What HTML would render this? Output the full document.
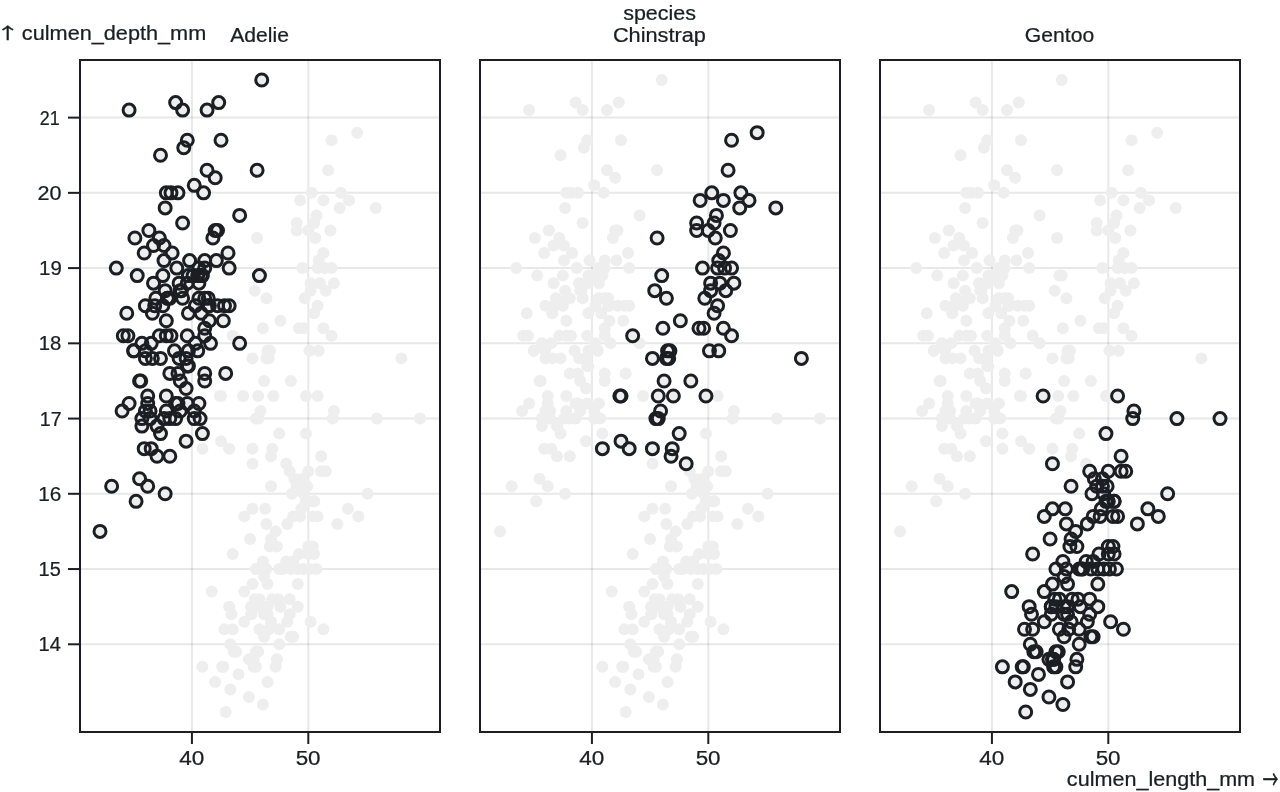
<!DOCTYPE html>
<html lang="en">
<head>
<meta charset="utf-8">
<title>Penguins culmen depth vs length by species</title>
<style>
html,body{margin:0;padding:0;background:#fff;}
body{width:1280px;height:792px;overflow:hidden;}
svg{display:block;font-family:"Liberation Sans",sans-serif;font-size:10px;fill:#1b1e23;}
text{stroke:#1b1e23;stroke-width:0.12px;}
.ar{font-family:"Noto Sans CJK SC","DejaVu Sans",sans-serif;stroke-width:0.2px;}
</style>
</head>
<body>
<svg width="1280" height="792" viewBox="0 0 640 396">
<rect width="640" height="396" fill="#fff"/>
<g stroke="#1b1e23" stroke-opacity="0.1" fill="none">
<line x1="40" x2="220" y1="322.14" y2="322.14"/><line x1="40" x2="220" y1="284.52" y2="284.52"/><line x1="40" x2="220" y1="246.9" y2="246.9"/><line x1="40" x2="220" y1="209.29" y2="209.29"/><line x1="40" x2="220" y1="171.67" y2="171.67"/><line x1="40" x2="220" y1="134.05" y2="134.05"/><line x1="40" x2="220" y1="96.43" y2="96.43"/><line x1="40" x2="220" y1="58.81" y2="58.81"/><line x1="95.96" x2="95.96" y1="30" y2="366"/><line x1="154.15" x2="154.15" y1="30" y2="366"/><line x1="240" x2="420" y1="322.14" y2="322.14"/><line x1="240" x2="420" y1="284.52" y2="284.52"/><line x1="240" x2="420" y1="246.9" y2="246.9"/><line x1="240" x2="420" y1="209.29" y2="209.29"/><line x1="240" x2="420" y1="171.67" y2="171.67"/><line x1="240" x2="420" y1="134.05" y2="134.05"/><line x1="240" x2="420" y1="96.43" y2="96.43"/><line x1="240" x2="420" y1="58.81" y2="58.81"/><line x1="295.96" x2="295.96" y1="30" y2="366"/><line x1="354.15" x2="354.15" y1="30" y2="366"/><line x1="440" x2="620" y1="322.14" y2="322.14"/><line x1="440" x2="620" y1="284.52" y2="284.52"/><line x1="440" x2="620" y1="246.9" y2="246.9"/><line x1="440" x2="620" y1="209.29" y2="209.29"/><line x1="440" x2="620" y1="171.67" y2="171.67"/><line x1="440" x2="620" y1="134.05" y2="134.05"/><line x1="440" x2="620" y1="96.43" y2="96.43"/><line x1="440" x2="620" y1="58.81" y2="58.81"/><line x1="495.96" x2="495.96" y1="30" y2="366"/><line x1="554.15" x2="554.15" y1="30" y2="366"/>
</g>
<g stroke="#1b1e23" fill="none">
<line x1="34" x2="40" y1="322.14" y2="322.14"/><line x1="34" x2="40" y1="284.52" y2="284.52"/><line x1="34" x2="40" y1="246.9" y2="246.9"/><line x1="34" x2="40" y1="209.29" y2="209.29"/><line x1="34" x2="40" y1="171.67" y2="171.67"/><line x1="34" x2="40" y1="134.05" y2="134.05"/><line x1="34" x2="40" y1="96.43" y2="96.43"/><line x1="34" x2="40" y1="58.81" y2="58.81"/><line x1="95.96" x2="95.96" y1="366" y2="372"/><line x1="154.15" x2="154.15" y1="366" y2="372"/><line x1="295.96" x2="295.96" y1="366" y2="372"/><line x1="354.15" x2="354.15" y1="366" y2="372"/><line x1="495.96" x2="495.96" y1="366" y2="372"/><line x1="554.15" x2="554.15" y1="366" y2="372"/>
</g>
<g>
<text x="30.42" y="325.64" text-anchor="end" textLength="11.15" lengthAdjust="spacingAndGlyphs">14</text><text x="30.38" y="288.02" text-anchor="end" textLength="11.1" lengthAdjust="spacingAndGlyphs">15</text><text x="30.72" y="250.4" text-anchor="end" textLength="11.58" lengthAdjust="spacingAndGlyphs">16</text><text x="30.79" y="212.79" text-anchor="end" textLength="10.87" lengthAdjust="spacingAndGlyphs">17</text><text x="30.68" y="175.17" text-anchor="end" textLength="11.28" lengthAdjust="spacingAndGlyphs">18</text><text x="30.88" y="137.55" text-anchor="end" textLength="11.36" lengthAdjust="spacingAndGlyphs">19</text><text x="30.74" y="99.93" text-anchor="end" textLength="12.01" lengthAdjust="spacingAndGlyphs">20</text><text x="29.86" y="62.31" text-anchor="end" textLength="9.96" lengthAdjust="spacingAndGlyphs">21</text>
</g>
<g>
<text x="95.93" y="382.25" text-anchor="middle" textLength="12.53" lengthAdjust="spacingAndGlyphs">40</text><text x="154.06" y="382.25" text-anchor="middle" textLength="12.45" lengthAdjust="spacingAndGlyphs">50</text><text x="295.93" y="382.25" text-anchor="middle" textLength="12.53" lengthAdjust="spacingAndGlyphs">40</text><text x="354.06" y="382.25" text-anchor="middle" textLength="12.45" lengthAdjust="spacingAndGlyphs">50</text><text x="495.93" y="382.25" text-anchor="middle" textLength="12.53" lengthAdjust="spacingAndGlyphs">40</text><text x="554.06" y="382.25" text-anchor="middle" textLength="12.45" lengthAdjust="spacingAndGlyphs">50</text>
</g>
<g>
<text x="129.82" y="20.9" text-anchor="middle" textLength="29.33" lengthAdjust="spacingAndGlyphs">Adelie</text><text x="329.71" y="20.9" text-anchor="middle" textLength="46.52" lengthAdjust="spacingAndGlyphs">Chinstrap</text><text x="529.75" y="20.9" text-anchor="middle" textLength="34.65" lengthAdjust="spacingAndGlyphs">Gentoo</text><text x="329.77" y="9.75" text-anchor="middle" textLength="36.35" lengthAdjust="spacingAndGlyphs">species</text><text class="ar" transform="translate(-2.1,19.4) scale(1.200,0.800)">↑</text><text x="10.94" y="19.75" textLength="92.18" lengthAdjust="spacingAndGlyphs">culmen_depth_mm</text><text x="627.54" y="393" text-anchor="end" textLength="94.1" lengthAdjust="spacingAndGlyphs">culmen_length_mm</text><text class="ar" transform="translate(631.4,394.37) scale(0.780,1.250)">→</text>
</g>
<g transform="translate(40,0)">
<rect x="0" y="30" width="180" height="336" fill="none" stroke="#1b1e23"/>
<g fill="#eee" stroke="none">
<circle cx="50.73" cy="145.33" r="3"/><circle cx="53.05" cy="194.24" r="3"/><circle cx="57.71" cy="171.67" r="3"/><circle cx="36.76" cy="122.76" r="3"/><circle cx="51.89" cy="73.86" r="3"/><circle cx="49.56" cy="179.19" r="3"/><circle cx="51.31" cy="111.48" r="3"/><circle cx="21.64" cy="167.9" r="3"/><circle cx="67.6" cy="88.9" r="3"/><circle cx="43.16" cy="205.52" r="3"/><circle cx="43.16" cy="198" r="3"/><circle cx="62.36" cy="186.71" r="3"/><circle cx="47.82" cy="51.29" r="3"/><circle cx="24.55" cy="55.05" r="3"/><circle cx="36.18" cy="179.19" r="3"/><circle cx="48.4" cy="134.05" r="3"/><circle cx="70.51" cy="70.1" r="3"/><circle cx="23.38" cy="156.62" r="3"/><circle cx="90.87" cy="40" r="3"/><circle cx="43.16" cy="160.38" r="3"/><circle cx="42.58" cy="145.33" r="3"/><circle cx="32.11" cy="126.52" r="3"/><circle cx="45.49" cy="167.9" r="3"/><circle cx="48.98" cy="201.76" r="3"/><circle cx="28.62" cy="137.81" r="3"/><circle cx="59.45" cy="149.1" r="3"/><circle cx="58.87" cy="175.43" r="3"/><circle cx="43.75" cy="149.1" r="3"/><circle cx="58.87" cy="137.81" r="3"/><circle cx="53.05" cy="220.57" r="3"/><circle cx="39.67" cy="167.9" r="3"/><circle cx="53.05" cy="179.19" r="3"/><circle cx="61.2" cy="137.81" r="3"/><circle cx="35.02" cy="209.29" r="3"/><circle cx="51.31" cy="55.05" r="3"/><circle cx="48.98" cy="96.43" r="3"/><circle cx="68.76" cy="152.86" r="3"/><circle cx="42" cy="122.76" r="3"/><circle cx="54.8" cy="130.29" r="3"/><circle cx="35.6" cy="171.67" r="3"/><circle cx="60.62" cy="156.62" r="3"/><circle cx="32.69" cy="152.86" r="3"/><circle cx="79.82" cy="107.71" r="3"/><circle cx="38.51" cy="213.05" r="3"/><circle cx="53.64" cy="141.57" r="3"/><circle cx="62.36" cy="134.05" r="3"/><circle cx="41.42" cy="137.81" r="3"/><circle cx="32.69" cy="175.43" r="3"/><circle cx="69.35" cy="51.29" r="3"/><circle cx="53.64" cy="182.95" r="3"/><circle cx="56.55" cy="137.81" r="3"/><circle cx="26.87" cy="175.43" r="3"/><circle cx="67.6" cy="115.24" r="3"/><circle cx="23.96" cy="167.9" r="3"/><circle cx="64.11" cy="149.1" r="3"/><circle cx="50.15" cy="190.48" r="3"/><circle cx="59.45" cy="141.57" r="3"/><circle cx="35.6" cy="224.33" r="3"/><circle cx="42" cy="130.29" r="3"/><circle cx="30.95" cy="213.05" r="3"/><circle cx="63.53" cy="55.05" r="3"/><circle cx="42" cy="209.29" r="3"/><circle cx="62.36" cy="164.14" r="3"/><circle cx="35.02" cy="205.52" r="3"/><circle cx="65.27" cy="171.67" r="3"/><circle cx="29.78" cy="239.38" r="3"/><circle cx="62.36" cy="130.29" r="3"/><circle cx="32.11" cy="224.33" r="3"/><circle cx="66.44" cy="119" r="3"/><circle cx="18.15" cy="134.05" r="3"/><circle cx="54.22" cy="156.62" r="3"/><circle cx="53.64" cy="201.76" r="3"/><circle cx="89.71" cy="137.81" r="3"/><circle cx="29.78" cy="190.48" r="3"/><circle cx="72.25" cy="152.86" r="3"/><circle cx="61.2" cy="216.81" r="3"/><circle cx="39.67" cy="119" r="3"/><circle cx="33.85" cy="243.14" r="3"/><circle cx="68.18" cy="130.29" r="3"/><circle cx="24.55" cy="201.76" r="3"/><circle cx="72.84" cy="186.71" r="3"/><circle cx="36.76" cy="141.57" r="3"/><circle cx="27.45" cy="119" r="3"/><circle cx="40.25" cy="179.19" r="3"/><circle cx="63.53" cy="85.14" r="3"/><circle cx="34.44" cy="115.24" r="3"/><circle cx="37.93" cy="149.1" r="3"/><circle cx="46.07" cy="126.52" r="3"/><circle cx="49.56" cy="141.57" r="3"/><circle cx="30.95" cy="171.67" r="3"/><circle cx="62.36" cy="167.9" r="3"/><circle cx="21.05" cy="205.52" r="3"/><circle cx="53.64" cy="167.9" r="3"/><circle cx="33.85" cy="198" r="3"/><circle cx="60.62" cy="137.81" r="3"/><circle cx="44.91" cy="149.1" r="3"/><circle cx="57.71" cy="152.86" r="3"/><circle cx="15.82" cy="243.14" r="3"/><circle cx="74.58" cy="152.86" r="3"/><circle cx="26.87" cy="175.43" r="3"/><circle cx="61.78" cy="96.43" r="3"/><circle cx="42.58" cy="246.9" r="3"/><circle cx="43.16" cy="96.43" r="3"/><circle cx="43.75" cy="149.1" r="3"/><circle cx="54.22" cy="137.81" r="3"/><circle cx="47.82" cy="201.76" r="3"/><circle cx="45.49" cy="96.43" r="3"/><circle cx="44.91" cy="209.29" r="3"/><circle cx="74.58" cy="134.05" r="3"/><circle cx="44.91" cy="228.1" r="3"/><circle cx="88.55" cy="85.14" r="3"/><circle cx="54.22" cy="182.95" r="3"/><circle cx="68.76" cy="115.24" r="3"/><circle cx="53.64" cy="70.1" r="3"/><circle cx="71.67" cy="160.38" r="3"/><circle cx="47.82" cy="209.29" r="3"/><circle cx="40.25" cy="77.62" r="3"/><circle cx="30.95" cy="209.29" r="3"/><circle cx="62.36" cy="149.1" r="3"/><circle cx="33.85" cy="201.76" r="3"/><circle cx="42.58" cy="103.95" r="3"/><circle cx="57.13" cy="209.29" r="3"/><circle cx="64.11" cy="152.86" r="3"/><circle cx="28.04" cy="250.67" r="3"/><circle cx="59.45" cy="134.05" r="3"/><circle cx="48.98" cy="186.71" r="3"/><circle cx="64.69" cy="160.38" r="3"/><circle cx="50.15" cy="205.52" r="3"/><circle cx="79.82" cy="171.67" r="3"/><circle cx="47.24" cy="175.43" r="3"/><circle cx="74" cy="126.52" r="3"/><circle cx="37.35" cy="152.86" r="3"/><circle cx="41.42" cy="152.86" r="3"/><circle cx="44.91" cy="186.71" r="3"/><circle cx="62.36" cy="190.48" r="3"/><circle cx="30.36" cy="190.48" r="3"/><circle cx="57.13" cy="92.67" r="3"/><circle cx="38.51" cy="228.1" r="3"/><circle cx="54.22" cy="175.43" r="3"/><circle cx="57.13" cy="205.52" r="3"/><circle cx="59.45" cy="201.76" r="3"/><circle cx="10" cy="265.71" r="3"/><circle cx="60.04" cy="209.29" r="3"/><circle cx="40.25" cy="216.81" r="3"/><circle cx="50.15" cy="145.33" r="3"/><circle cx="51.31" cy="149.1" r="3"/><circle cx="36.18" cy="156.62" r="3"/><circle cx="32.69" cy="179.19" r="3"/><circle cx="43.16" cy="167.9" r="3"/><circle cx="32.69" cy="205.52" r="3"/><circle cx="64.69" cy="152.86" r="3"/><circle cx="93.78" cy="175.43" r="3"/><circle cx="114.15" cy="115.24" r="3"/><circle cx="121.71" cy="126.52" r="3"/><circle cx="87.38" cy="145.33" r="3"/><circle cx="129.85" cy="103.95" r="3"/><circle cx="86.22" cy="179.19" r="3"/><circle cx="91.45" cy="164.14" r="3"/><circle cx="121.71" cy="164.14" r="3"/><circle cx="90.87" cy="137.81" r="3"/><circle cx="121.71" cy="100.19" r="3"/><circle cx="94.36" cy="179.19" r="3"/><circle cx="124.04" cy="85.14" r="3"/><circle cx="96.69" cy="198" r="3"/><circle cx="125.78" cy="167.9" r="3"/><circle cx="90.29" cy="205.52" r="3"/><circle cx="117.05" cy="111.48" r="3"/><circle cx="115.89" cy="96.43" r="3"/><circle cx="160.69" cy="179.19" r="3"/><circle cx="93.2" cy="149.1" r="3"/><circle cx="109.49" cy="164.14" r="3"/><circle cx="69.93" cy="198" r="3"/><circle cx="105.42" cy="190.48" r="3"/><circle cx="74.58" cy="224.33" r="3"/><circle cx="117.64" cy="119" r="3"/><circle cx="94.95" cy="175.43" r="3"/><circle cx="125.78" cy="134.05" r="3"/><circle cx="117.05" cy="156.62" r="3"/><circle cx="111.24" cy="134.05" r="3"/><circle cx="93.2" cy="179.19" r="3"/><circle cx="130.44" cy="96.43" r="3"/><circle cx="61.2" cy="224.33" r="3"/><circle cx="138.58" cy="66.33" r="3"/><circle cx="70.51" cy="220.57" r="3"/><circle cx="119.96" cy="141.57" r="3"/><circle cx="112.4" cy="149.1" r="3"/><circle cx="99.6" cy="216.81" r="3"/><circle cx="100.18" cy="160.38" r="3"/><circle cx="125.78" cy="70.1" r="3"/><circle cx="96.11" cy="224.33" r="3"/><circle cx="134.51" cy="100.19" r="3"/><circle cx="108.33" cy="115.24" r="3"/><circle cx="92.04" cy="190.48" r="3"/><circle cx="119.38" cy="130.29" r="3"/><circle cx="87.96" cy="209.29" r="3"/><circle cx="119.38" cy="175.43" r="3"/><circle cx="118.8" cy="152.86" r="3"/><circle cx="114.73" cy="175.43" r="3"/><circle cx="108.33" cy="111.48" r="3"/><circle cx="122.87" cy="145.33" r="3"/><circle cx="112.98" cy="198" r="3"/><circle cx="103.09" cy="231.86" r="3"/><circle cx="122.29" cy="134.05" r="3"/><circle cx="89.13" cy="198" r="3"/><circle cx="118.22" cy="107.71" r="3"/><circle cx="70.51" cy="198" r="3"/><circle cx="126.95" cy="141.57" r="3"/><circle cx="86.22" cy="224.33" r="3"/><circle cx="110.07" cy="100.19" r="3"/><circle cx="115.31" cy="141.57" r="3"/><circle cx="88.55" cy="119" r="3"/><circle cx="125.2" cy="115.24" r="3"/><circle cx="95.53" cy="228.1" r="3"/><circle cx="89.13" cy="209.29" r="3"/><circle cx="147.89" cy="103.95" r="3"/><circle cx="76.33" cy="167.9" r="3"/><circle cx="111.82" cy="164.14" r="3"/><circle cx="118.8" cy="134.05" r="3"/><circle cx="115.31" cy="145.33" r="3"/><circle cx="91.45" cy="352.24" r="3"/><circle cx="114.15" cy="235.62" r="3"/><circle cx="106.58" cy="318.38" r="3"/><circle cx="114.15" cy="277" r="3"/><circle cx="100.18" cy="303.33" r="3"/><circle cx="93.78" cy="340.95" r="3"/><circle cx="87.38" cy="299.57" r="3"/><circle cx="94.95" cy="273.24" r="3"/><circle cx="75.16" cy="344.71" r="3"/><circle cx="95.53" cy="269.48" r="3"/><circle cx="61.2" cy="333.43" r="3"/><circle cx="108.33" cy="243.14" r="3"/><circle cx="87.96" cy="333.43" r="3"/><circle cx="104.84" cy="299.57" r="3"/><circle cx="89.71" cy="299.57" r="3"/><circle cx="110.07" cy="258.19" r="3"/><circle cx="67.6" cy="340.95" r="3"/><circle cx="109.49" cy="277" r="3"/><circle cx="92.04" cy="303.33" r="3"/><circle cx="106.58" cy="280.76" r="3"/><circle cx="115.31" cy="310.86" r="3"/><circle cx="85.64" cy="303.33" r="3"/><circle cx="93.78" cy="303.33" r="3"/><circle cx="92.62" cy="254.43" r="3"/><circle cx="72.84" cy="356" r="3"/><circle cx="91.45" cy="280.76" r="3"/><circle cx="82.15" cy="310.86" r="3"/><circle cx="101.35" cy="284.52" r="3"/><circle cx="103.67" cy="310.86" r="3"/><circle cx="114.15" cy="273.24" r="3"/><circle cx="98.44" cy="273.24" r="3"/><circle cx="72.25" cy="314.62" r="3"/><circle cx="85.64" cy="303.33" r="3"/><circle cx="170" cy="209.29" r="3"/><circle cx="108.91" cy="292.05" r="3"/><circle cx="104.84" cy="235.62" r="3"/><circle cx="71.09" cy="333.43" r="3"/><circle cx="81.56" cy="198" r="3"/><circle cx="79.24" cy="337.19" r="3"/><circle cx="106.58" cy="258.19" r="3"/><circle cx="71.67" cy="333.43" r="3"/><circle cx="111.82" cy="246.9" r="3"/><circle cx="86.8" cy="333.43" r="3"/><circle cx="111.82" cy="284.52" r="3"/><circle cx="117.05" cy="250.67" r="3"/><circle cx="76.91" cy="325.9" r="3"/><circle cx="87.96" cy="325.9" r="3"/><circle cx="117.05" cy="250.67" r="3"/><circle cx="84.47" cy="348.48" r="3"/><circle cx="86.22" cy="254.43" r="3"/><circle cx="94.36" cy="314.62" r="3"/><circle cx="105.42" cy="318.38" r="3"/><circle cx="85.64" cy="307.1" r="3"/><circle cx="114.73" cy="284.52" r="3"/><circle cx="93.78" cy="307.1" r="3"/><circle cx="85.05" cy="269.48" r="3"/><circle cx="78.07" cy="325.9" r="3"/><circle cx="87.96" cy="284.52" r="3"/><circle cx="74.58" cy="303.33" r="3"/><circle cx="116.47" cy="273.24" r="3"/><circle cx="86.8" cy="329.67" r="3"/><circle cx="92.04" cy="288.29" r="3"/><circle cx="89.13" cy="325.9" r="3"/><circle cx="139.16" cy="258.19" r="3"/><circle cx="89.71" cy="314.62" r="3"/><circle cx="112.98" cy="216.81" r="3"/><circle cx="92.04" cy="307.1" r="3"/><circle cx="111.24" cy="239.38" r="3"/><circle cx="76.33" cy="314.62" r="3"/><circle cx="118.22" cy="284.52" r="3"/><circle cx="100.76" cy="284.52" r="3"/><circle cx="93.2" cy="261.95" r="3"/><circle cx="103.67" cy="261.95" r="3"/><circle cx="93.78" cy="292.05" r="3"/><circle cx="93.2" cy="284.52" r="3"/><circle cx="106" cy="246.9" r="3"/><circle cx="99.6" cy="314.62" r="3"/><circle cx="120.55" cy="235.62" r="3"/><circle cx="86.22" cy="329.67" r="3"/><circle cx="86.22" cy="231.86" r="3"/><circle cx="108.91" cy="303.33" r="3"/><circle cx="128.69" cy="261.95" r="3"/><circle cx="99.02" cy="299.57" r="3"/><circle cx="114.15" cy="250.67" r="3"/><circle cx="84.47" cy="329.67" r="3"/><circle cx="118.8" cy="198" r="3"/><circle cx="75.75" cy="307.1" r="3"/><circle cx="121.71" cy="314.62" r="3"/><circle cx="99.6" cy="322.14" r="3"/><circle cx="126.36" cy="209.29" r="3"/><circle cx="99.6" cy="284.52" r="3"/><circle cx="126.95" cy="205.52" r="3"/><circle cx="87.96" cy="303.33" r="3"/><circle cx="111.24" cy="243.14" r="3"/><circle cx="82.15" cy="295.81" r="3"/><circle cx="118.8" cy="258.19" r="3"/><circle cx="110.65" cy="254.43" r="3"/><circle cx="96.11" cy="299.57" r="3"/><circle cx="104.84" cy="307.1" r="3"/><circle cx="120.55" cy="228.1" r="3"/><circle cx="105.42" cy="284.52" r="3"/><circle cx="148.47" cy="209.29" r="3"/><circle cx="97.85" cy="265.71" r="3"/><circle cx="108.91" cy="284.52" r="3"/><circle cx="98.44" cy="329.67" r="3"/><circle cx="95.53" cy="243.14" r="3"/><circle cx="65.85" cy="295.81" r="3"/><circle cx="133.93" cy="254.43" r="3"/><circle cx="75.16" cy="322.14" r="3"/><circle cx="103.09" cy="280.76" r="3"/><circle cx="117.05" cy="277" r="3"/><circle cx="112.98" cy="250.67" r="3"/><circle cx="76.33" cy="277" r="3"/><circle cx="122.87" cy="235.62" r="3"/><circle cx="92.04" cy="318.38" r="3"/><circle cx="143.82" cy="246.9" r="3"/><circle cx="82.15" cy="258.19" r="3"/><circle cx="107.16" cy="239.38" r="3"/><circle cx="97.85" cy="333.43" r="3"/><circle cx="95.53" cy="310.86" r="3"/><circle cx="116.47" cy="258.19" r="3"/><circle cx="86.22" cy="292.05" r="3"/><circle cx="113.56" cy="243.14" r="3"/>
</g>
<g fill="none" stroke="#1b1e23" stroke-width="1.5">
<circle cx="50.73" cy="145.33" r="3"/><circle cx="53.05" cy="194.24" r="3"/><circle cx="57.71" cy="171.67" r="3"/><circle cx="36.76" cy="122.76" r="3"/><circle cx="51.89" cy="73.86" r="3"/><circle cx="49.56" cy="179.19" r="3"/><circle cx="51.31" cy="111.48" r="3"/><circle cx="21.64" cy="167.9" r="3"/><circle cx="67.6" cy="88.9" r="3"/><circle cx="43.16" cy="205.52" r="3"/><circle cx="43.16" cy="198" r="3"/><circle cx="62.36" cy="186.71" r="3"/><circle cx="47.82" cy="51.29" r="3"/><circle cx="24.55" cy="55.05" r="3"/><circle cx="36.18" cy="179.19" r="3"/><circle cx="48.4" cy="134.05" r="3"/><circle cx="70.51" cy="70.1" r="3"/><circle cx="23.38" cy="156.62" r="3"/><circle cx="90.87" cy="40" r="3"/><circle cx="43.16" cy="160.38" r="3"/><circle cx="42.58" cy="145.33" r="3"/><circle cx="32.11" cy="126.52" r="3"/><circle cx="45.49" cy="167.9" r="3"/><circle cx="48.98" cy="201.76" r="3"/><circle cx="28.62" cy="137.81" r="3"/><circle cx="59.45" cy="149.1" r="3"/><circle cx="58.87" cy="175.43" r="3"/><circle cx="43.75" cy="149.1" r="3"/><circle cx="58.87" cy="137.81" r="3"/><circle cx="53.05" cy="220.57" r="3"/><circle cx="39.67" cy="167.9" r="3"/><circle cx="53.05" cy="179.19" r="3"/><circle cx="61.2" cy="137.81" r="3"/><circle cx="35.02" cy="209.29" r="3"/><circle cx="51.31" cy="55.05" r="3"/><circle cx="48.98" cy="96.43" r="3"/><circle cx="68.76" cy="152.86" r="3"/><circle cx="42" cy="122.76" r="3"/><circle cx="54.8" cy="130.29" r="3"/><circle cx="35.6" cy="171.67" r="3"/><circle cx="60.62" cy="156.62" r="3"/><circle cx="32.69" cy="152.86" r="3"/><circle cx="79.82" cy="107.71" r="3"/><circle cx="38.51" cy="213.05" r="3"/><circle cx="53.64" cy="141.57" r="3"/><circle cx="62.36" cy="134.05" r="3"/><circle cx="41.42" cy="137.81" r="3"/><circle cx="32.69" cy="175.43" r="3"/><circle cx="69.35" cy="51.29" r="3"/><circle cx="53.64" cy="182.95" r="3"/><circle cx="56.55" cy="137.81" r="3"/><circle cx="26.87" cy="175.43" r="3"/><circle cx="67.6" cy="115.24" r="3"/><circle cx="23.96" cy="167.9" r="3"/><circle cx="64.11" cy="149.1" r="3"/><circle cx="50.15" cy="190.48" r="3"/><circle cx="59.45" cy="141.57" r="3"/><circle cx="35.6" cy="224.33" r="3"/><circle cx="42" cy="130.29" r="3"/><circle cx="30.95" cy="213.05" r="3"/><circle cx="63.53" cy="55.05" r="3"/><circle cx="42" cy="209.29" r="3"/><circle cx="62.36" cy="164.14" r="3"/><circle cx="35.02" cy="205.52" r="3"/><circle cx="65.27" cy="171.67" r="3"/><circle cx="29.78" cy="239.38" r="3"/><circle cx="62.36" cy="130.29" r="3"/><circle cx="32.11" cy="224.33" r="3"/><circle cx="66.44" cy="119" r="3"/><circle cx="18.15" cy="134.05" r="3"/><circle cx="54.22" cy="156.62" r="3"/><circle cx="53.64" cy="201.76" r="3"/><circle cx="89.71" cy="137.81" r="3"/><circle cx="29.78" cy="190.48" r="3"/><circle cx="72.25" cy="152.86" r="3"/><circle cx="61.2" cy="216.81" r="3"/><circle cx="39.67" cy="119" r="3"/><circle cx="33.85" cy="243.14" r="3"/><circle cx="68.18" cy="130.29" r="3"/><circle cx="24.55" cy="201.76" r="3"/><circle cx="72.84" cy="186.71" r="3"/><circle cx="36.76" cy="141.57" r="3"/><circle cx="27.45" cy="119" r="3"/><circle cx="40.25" cy="179.19" r="3"/><circle cx="63.53" cy="85.14" r="3"/><circle cx="34.44" cy="115.24" r="3"/><circle cx="37.93" cy="149.1" r="3"/><circle cx="46.07" cy="126.52" r="3"/><circle cx="49.56" cy="141.57" r="3"/><circle cx="30.95" cy="171.67" r="3"/><circle cx="62.36" cy="167.9" r="3"/><circle cx="21.05" cy="205.52" r="3"/><circle cx="53.64" cy="167.9" r="3"/><circle cx="33.85" cy="198" r="3"/><circle cx="60.62" cy="137.81" r="3"/><circle cx="44.91" cy="149.1" r="3"/><circle cx="57.71" cy="152.86" r="3"/><circle cx="15.82" cy="243.14" r="3"/><circle cx="74.58" cy="152.86" r="3"/><circle cx="26.87" cy="175.43" r="3"/><circle cx="61.78" cy="96.43" r="3"/><circle cx="42.58" cy="246.9" r="3"/><circle cx="43.16" cy="96.43" r="3"/><circle cx="43.75" cy="149.1" r="3"/><circle cx="54.22" cy="137.81" r="3"/><circle cx="47.82" cy="201.76" r="3"/><circle cx="45.49" cy="96.43" r="3"/><circle cx="44.91" cy="209.29" r="3"/><circle cx="74.58" cy="134.05" r="3"/><circle cx="44.91" cy="228.1" r="3"/><circle cx="88.55" cy="85.14" r="3"/><circle cx="54.22" cy="182.95" r="3"/><circle cx="68.76" cy="115.24" r="3"/><circle cx="53.64" cy="70.1" r="3"/><circle cx="71.67" cy="160.38" r="3"/><circle cx="47.82" cy="209.29" r="3"/><circle cx="40.25" cy="77.62" r="3"/><circle cx="30.95" cy="209.29" r="3"/><circle cx="62.36" cy="149.1" r="3"/><circle cx="33.85" cy="201.76" r="3"/><circle cx="42.58" cy="103.95" r="3"/><circle cx="57.13" cy="209.29" r="3"/><circle cx="64.11" cy="152.86" r="3"/><circle cx="28.04" cy="250.67" r="3"/><circle cx="59.45" cy="134.05" r="3"/><circle cx="48.98" cy="186.71" r="3"/><circle cx="64.69" cy="160.38" r="3"/><circle cx="50.15" cy="205.52" r="3"/><circle cx="79.82" cy="171.67" r="3"/><circle cx="47.24" cy="175.43" r="3"/><circle cx="74" cy="126.52" r="3"/><circle cx="37.35" cy="152.86" r="3"/><circle cx="41.42" cy="152.86" r="3"/><circle cx="44.91" cy="186.71" r="3"/><circle cx="62.36" cy="190.48" r="3"/><circle cx="30.36" cy="190.48" r="3"/><circle cx="57.13" cy="92.67" r="3"/><circle cx="38.51" cy="228.1" r="3"/><circle cx="54.22" cy="175.43" r="3"/><circle cx="57.13" cy="205.52" r="3"/><circle cx="59.45" cy="201.76" r="3"/><circle cx="10" cy="265.71" r="3"/><circle cx="60.04" cy="209.29" r="3"/><circle cx="40.25" cy="216.81" r="3"/><circle cx="50.15" cy="145.33" r="3"/><circle cx="51.31" cy="149.1" r="3"/><circle cx="36.18" cy="156.62" r="3"/><circle cx="32.69" cy="179.19" r="3"/><circle cx="43.16" cy="167.9" r="3"/><circle cx="32.69" cy="205.52" r="3"/><circle cx="64.69" cy="152.86" r="3"/>
</g>
</g>
<g transform="translate(240,0)">
<rect x="0" y="30" width="180" height="336" fill="none" stroke="#1b1e23"/>
<g fill="#eee" stroke="none">
<circle cx="50.73" cy="145.33" r="3"/><circle cx="53.05" cy="194.24" r="3"/><circle cx="57.71" cy="171.67" r="3"/><circle cx="36.76" cy="122.76" r="3"/><circle cx="51.89" cy="73.86" r="3"/><circle cx="49.56" cy="179.19" r="3"/><circle cx="51.31" cy="111.48" r="3"/><circle cx="21.64" cy="167.9" r="3"/><circle cx="67.6" cy="88.9" r="3"/><circle cx="43.16" cy="205.52" r="3"/><circle cx="43.16" cy="198" r="3"/><circle cx="62.36" cy="186.71" r="3"/><circle cx="47.82" cy="51.29" r="3"/><circle cx="24.55" cy="55.05" r="3"/><circle cx="36.18" cy="179.19" r="3"/><circle cx="48.4" cy="134.05" r="3"/><circle cx="70.51" cy="70.1" r="3"/><circle cx="23.38" cy="156.62" r="3"/><circle cx="90.87" cy="40" r="3"/><circle cx="43.16" cy="160.38" r="3"/><circle cx="42.58" cy="145.33" r="3"/><circle cx="32.11" cy="126.52" r="3"/><circle cx="45.49" cy="167.9" r="3"/><circle cx="48.98" cy="201.76" r="3"/><circle cx="28.62" cy="137.81" r="3"/><circle cx="59.45" cy="149.1" r="3"/><circle cx="58.87" cy="175.43" r="3"/><circle cx="43.75" cy="149.1" r="3"/><circle cx="58.87" cy="137.81" r="3"/><circle cx="53.05" cy="220.57" r="3"/><circle cx="39.67" cy="167.9" r="3"/><circle cx="53.05" cy="179.19" r="3"/><circle cx="61.2" cy="137.81" r="3"/><circle cx="35.02" cy="209.29" r="3"/><circle cx="51.31" cy="55.05" r="3"/><circle cx="48.98" cy="96.43" r="3"/><circle cx="68.76" cy="152.86" r="3"/><circle cx="42" cy="122.76" r="3"/><circle cx="54.8" cy="130.29" r="3"/><circle cx="35.6" cy="171.67" r="3"/><circle cx="60.62" cy="156.62" r="3"/><circle cx="32.69" cy="152.86" r="3"/><circle cx="79.82" cy="107.71" r="3"/><circle cx="38.51" cy="213.05" r="3"/><circle cx="53.64" cy="141.57" r="3"/><circle cx="62.36" cy="134.05" r="3"/><circle cx="41.42" cy="137.81" r="3"/><circle cx="32.69" cy="175.43" r="3"/><circle cx="69.35" cy="51.29" r="3"/><circle cx="53.64" cy="182.95" r="3"/><circle cx="56.55" cy="137.81" r="3"/><circle cx="26.87" cy="175.43" r="3"/><circle cx="67.6" cy="115.24" r="3"/><circle cx="23.96" cy="167.9" r="3"/><circle cx="64.11" cy="149.1" r="3"/><circle cx="50.15" cy="190.48" r="3"/><circle cx="59.45" cy="141.57" r="3"/><circle cx="35.6" cy="224.33" r="3"/><circle cx="42" cy="130.29" r="3"/><circle cx="30.95" cy="213.05" r="3"/><circle cx="63.53" cy="55.05" r="3"/><circle cx="42" cy="209.29" r="3"/><circle cx="62.36" cy="164.14" r="3"/><circle cx="35.02" cy="205.52" r="3"/><circle cx="65.27" cy="171.67" r="3"/><circle cx="29.78" cy="239.38" r="3"/><circle cx="62.36" cy="130.29" r="3"/><circle cx="32.11" cy="224.33" r="3"/><circle cx="66.44" cy="119" r="3"/><circle cx="18.15" cy="134.05" r="3"/><circle cx="54.22" cy="156.62" r="3"/><circle cx="53.64" cy="201.76" r="3"/><circle cx="89.71" cy="137.81" r="3"/><circle cx="29.78" cy="190.48" r="3"/><circle cx="72.25" cy="152.86" r="3"/><circle cx="61.2" cy="216.81" r="3"/><circle cx="39.67" cy="119" r="3"/><circle cx="33.85" cy="243.14" r="3"/><circle cx="68.18" cy="130.29" r="3"/><circle cx="24.55" cy="201.76" r="3"/><circle cx="72.84" cy="186.71" r="3"/><circle cx="36.76" cy="141.57" r="3"/><circle cx="27.45" cy="119" r="3"/><circle cx="40.25" cy="179.19" r="3"/><circle cx="63.53" cy="85.14" r="3"/><circle cx="34.44" cy="115.24" r="3"/><circle cx="37.93" cy="149.1" r="3"/><circle cx="46.07" cy="126.52" r="3"/><circle cx="49.56" cy="141.57" r="3"/><circle cx="30.95" cy="171.67" r="3"/><circle cx="62.36" cy="167.9" r="3"/><circle cx="21.05" cy="205.52" r="3"/><circle cx="53.64" cy="167.9" r="3"/><circle cx="33.85" cy="198" r="3"/><circle cx="60.62" cy="137.81" r="3"/><circle cx="44.91" cy="149.1" r="3"/><circle cx="57.71" cy="152.86" r="3"/><circle cx="15.82" cy="243.14" r="3"/><circle cx="74.58" cy="152.86" r="3"/><circle cx="26.87" cy="175.43" r="3"/><circle cx="61.78" cy="96.43" r="3"/><circle cx="42.58" cy="246.9" r="3"/><circle cx="43.16" cy="96.43" r="3"/><circle cx="43.75" cy="149.1" r="3"/><circle cx="54.22" cy="137.81" r="3"/><circle cx="47.82" cy="201.76" r="3"/><circle cx="45.49" cy="96.43" r="3"/><circle cx="44.91" cy="209.29" r="3"/><circle cx="74.58" cy="134.05" r="3"/><circle cx="44.91" cy="228.1" r="3"/><circle cx="88.55" cy="85.14" r="3"/><circle cx="54.22" cy="182.95" r="3"/><circle cx="68.76" cy="115.24" r="3"/><circle cx="53.64" cy="70.1" r="3"/><circle cx="71.67" cy="160.38" r="3"/><circle cx="47.82" cy="209.29" r="3"/><circle cx="40.25" cy="77.62" r="3"/><circle cx="30.95" cy="209.29" r="3"/><circle cx="62.36" cy="149.1" r="3"/><circle cx="33.85" cy="201.76" r="3"/><circle cx="42.58" cy="103.95" r="3"/><circle cx="57.13" cy="209.29" r="3"/><circle cx="64.11" cy="152.86" r="3"/><circle cx="28.04" cy="250.67" r="3"/><circle cx="59.45" cy="134.05" r="3"/><circle cx="48.98" cy="186.71" r="3"/><circle cx="64.69" cy="160.38" r="3"/><circle cx="50.15" cy="205.52" r="3"/><circle cx="79.82" cy="171.67" r="3"/><circle cx="47.24" cy="175.43" r="3"/><circle cx="74" cy="126.52" r="3"/><circle cx="37.35" cy="152.86" r="3"/><circle cx="41.42" cy="152.86" r="3"/><circle cx="44.91" cy="186.71" r="3"/><circle cx="62.36" cy="190.48" r="3"/><circle cx="30.36" cy="190.48" r="3"/><circle cx="57.13" cy="92.67" r="3"/><circle cx="38.51" cy="228.1" r="3"/><circle cx="54.22" cy="175.43" r="3"/><circle cx="57.13" cy="205.52" r="3"/><circle cx="59.45" cy="201.76" r="3"/><circle cx="10" cy="265.71" r="3"/><circle cx="60.04" cy="209.29" r="3"/><circle cx="40.25" cy="216.81" r="3"/><circle cx="50.15" cy="145.33" r="3"/><circle cx="51.31" cy="149.1" r="3"/><circle cx="36.18" cy="156.62" r="3"/><circle cx="32.69" cy="179.19" r="3"/><circle cx="43.16" cy="167.9" r="3"/><circle cx="32.69" cy="205.52" r="3"/><circle cx="64.69" cy="152.86" r="3"/><circle cx="93.78" cy="175.43" r="3"/><circle cx="114.15" cy="115.24" r="3"/><circle cx="121.71" cy="126.52" r="3"/><circle cx="87.38" cy="145.33" r="3"/><circle cx="129.85" cy="103.95" r="3"/><circle cx="86.22" cy="179.19" r="3"/><circle cx="91.45" cy="164.14" r="3"/><circle cx="121.71" cy="164.14" r="3"/><circle cx="90.87" cy="137.81" r="3"/><circle cx="121.71" cy="100.19" r="3"/><circle cx="94.36" cy="179.19" r="3"/><circle cx="124.04" cy="85.14" r="3"/><circle cx="96.69" cy="198" r="3"/><circle cx="125.78" cy="167.9" r="3"/><circle cx="90.29" cy="205.52" r="3"/><circle cx="117.05" cy="111.48" r="3"/><circle cx="115.89" cy="96.43" r="3"/><circle cx="160.69" cy="179.19" r="3"/><circle cx="93.2" cy="149.1" r="3"/><circle cx="109.49" cy="164.14" r="3"/><circle cx="69.93" cy="198" r="3"/><circle cx="105.42" cy="190.48" r="3"/><circle cx="74.58" cy="224.33" r="3"/><circle cx="117.64" cy="119" r="3"/><circle cx="94.95" cy="175.43" r="3"/><circle cx="125.78" cy="134.05" r="3"/><circle cx="117.05" cy="156.62" r="3"/><circle cx="111.24" cy="134.05" r="3"/><circle cx="93.2" cy="179.19" r="3"/><circle cx="130.44" cy="96.43" r="3"/><circle cx="61.2" cy="224.33" r="3"/><circle cx="138.58" cy="66.33" r="3"/><circle cx="70.51" cy="220.57" r="3"/><circle cx="119.96" cy="141.57" r="3"/><circle cx="112.4" cy="149.1" r="3"/><circle cx="99.6" cy="216.81" r="3"/><circle cx="100.18" cy="160.38" r="3"/><circle cx="125.78" cy="70.1" r="3"/><circle cx="96.11" cy="224.33" r="3"/><circle cx="134.51" cy="100.19" r="3"/><circle cx="108.33" cy="115.24" r="3"/><circle cx="92.04" cy="190.48" r="3"/><circle cx="119.38" cy="130.29" r="3"/><circle cx="87.96" cy="209.29" r="3"/><circle cx="119.38" cy="175.43" r="3"/><circle cx="118.8" cy="152.86" r="3"/><circle cx="114.73" cy="175.43" r="3"/><circle cx="108.33" cy="111.48" r="3"/><circle cx="122.87" cy="145.33" r="3"/><circle cx="112.98" cy="198" r="3"/><circle cx="103.09" cy="231.86" r="3"/><circle cx="122.29" cy="134.05" r="3"/><circle cx="89.13" cy="198" r="3"/><circle cx="118.22" cy="107.71" r="3"/><circle cx="70.51" cy="198" r="3"/><circle cx="126.95" cy="141.57" r="3"/><circle cx="86.22" cy="224.33" r="3"/><circle cx="110.07" cy="100.19" r="3"/><circle cx="115.31" cy="141.57" r="3"/><circle cx="88.55" cy="119" r="3"/><circle cx="125.2" cy="115.24" r="3"/><circle cx="95.53" cy="228.1" r="3"/><circle cx="89.13" cy="209.29" r="3"/><circle cx="147.89" cy="103.95" r="3"/><circle cx="76.33" cy="167.9" r="3"/><circle cx="111.82" cy="164.14" r="3"/><circle cx="118.8" cy="134.05" r="3"/><circle cx="115.31" cy="145.33" r="3"/><circle cx="91.45" cy="352.24" r="3"/><circle cx="114.15" cy="235.62" r="3"/><circle cx="106.58" cy="318.38" r="3"/><circle cx="114.15" cy="277" r="3"/><circle cx="100.18" cy="303.33" r="3"/><circle cx="93.78" cy="340.95" r="3"/><circle cx="87.38" cy="299.57" r="3"/><circle cx="94.95" cy="273.24" r="3"/><circle cx="75.16" cy="344.71" r="3"/><circle cx="95.53" cy="269.48" r="3"/><circle cx="61.2" cy="333.43" r="3"/><circle cx="108.33" cy="243.14" r="3"/><circle cx="87.96" cy="333.43" r="3"/><circle cx="104.84" cy="299.57" r="3"/><circle cx="89.71" cy="299.57" r="3"/><circle cx="110.07" cy="258.19" r="3"/><circle cx="67.6" cy="340.95" r="3"/><circle cx="109.49" cy="277" r="3"/><circle cx="92.04" cy="303.33" r="3"/><circle cx="106.58" cy="280.76" r="3"/><circle cx="115.31" cy="310.86" r="3"/><circle cx="85.64" cy="303.33" r="3"/><circle cx="93.78" cy="303.33" r="3"/><circle cx="92.62" cy="254.43" r="3"/><circle cx="72.84" cy="356" r="3"/><circle cx="91.45" cy="280.76" r="3"/><circle cx="82.15" cy="310.86" r="3"/><circle cx="101.35" cy="284.52" r="3"/><circle cx="103.67" cy="310.86" r="3"/><circle cx="114.15" cy="273.24" r="3"/><circle cx="98.44" cy="273.24" r="3"/><circle cx="72.25" cy="314.62" r="3"/><circle cx="85.64" cy="303.33" r="3"/><circle cx="170" cy="209.29" r="3"/><circle cx="108.91" cy="292.05" r="3"/><circle cx="104.84" cy="235.62" r="3"/><circle cx="71.09" cy="333.43" r="3"/><circle cx="81.56" cy="198" r="3"/><circle cx="79.24" cy="337.19" r="3"/><circle cx="106.58" cy="258.19" r="3"/><circle cx="71.67" cy="333.43" r="3"/><circle cx="111.82" cy="246.9" r="3"/><circle cx="86.8" cy="333.43" r="3"/><circle cx="111.82" cy="284.52" r="3"/><circle cx="117.05" cy="250.67" r="3"/><circle cx="76.91" cy="325.9" r="3"/><circle cx="87.96" cy="325.9" r="3"/><circle cx="117.05" cy="250.67" r="3"/><circle cx="84.47" cy="348.48" r="3"/><circle cx="86.22" cy="254.43" r="3"/><circle cx="94.36" cy="314.62" r="3"/><circle cx="105.42" cy="318.38" r="3"/><circle cx="85.64" cy="307.1" r="3"/><circle cx="114.73" cy="284.52" r="3"/><circle cx="93.78" cy="307.1" r="3"/><circle cx="85.05" cy="269.48" r="3"/><circle cx="78.07" cy="325.9" r="3"/><circle cx="87.96" cy="284.52" r="3"/><circle cx="74.58" cy="303.33" r="3"/><circle cx="116.47" cy="273.24" r="3"/><circle cx="86.8" cy="329.67" r="3"/><circle cx="92.04" cy="288.29" r="3"/><circle cx="89.13" cy="325.9" r="3"/><circle cx="139.16" cy="258.19" r="3"/><circle cx="89.71" cy="314.62" r="3"/><circle cx="112.98" cy="216.81" r="3"/><circle cx="92.04" cy="307.1" r="3"/><circle cx="111.24" cy="239.38" r="3"/><circle cx="76.33" cy="314.62" r="3"/><circle cx="118.22" cy="284.52" r="3"/><circle cx="100.76" cy="284.52" r="3"/><circle cx="93.2" cy="261.95" r="3"/><circle cx="103.67" cy="261.95" r="3"/><circle cx="93.78" cy="292.05" r="3"/><circle cx="93.2" cy="284.52" r="3"/><circle cx="106" cy="246.9" r="3"/><circle cx="99.6" cy="314.62" r="3"/><circle cx="120.55" cy="235.62" r="3"/><circle cx="86.22" cy="329.67" r="3"/><circle cx="86.22" cy="231.86" r="3"/><circle cx="108.91" cy="303.33" r="3"/><circle cx="128.69" cy="261.95" r="3"/><circle cx="99.02" cy="299.57" r="3"/><circle cx="114.15" cy="250.67" r="3"/><circle cx="84.47" cy="329.67" r="3"/><circle cx="118.8" cy="198" r="3"/><circle cx="75.75" cy="307.1" r="3"/><circle cx="121.71" cy="314.62" r="3"/><circle cx="99.6" cy="322.14" r="3"/><circle cx="126.36" cy="209.29" r="3"/><circle cx="99.6" cy="284.52" r="3"/><circle cx="126.95" cy="205.52" r="3"/><circle cx="87.96" cy="303.33" r="3"/><circle cx="111.24" cy="243.14" r="3"/><circle cx="82.15" cy="295.81" r="3"/><circle cx="118.8" cy="258.19" r="3"/><circle cx="110.65" cy="254.43" r="3"/><circle cx="96.11" cy="299.57" r="3"/><circle cx="104.84" cy="307.1" r="3"/><circle cx="120.55" cy="228.1" r="3"/><circle cx="105.42" cy="284.52" r="3"/><circle cx="148.47" cy="209.29" r="3"/><circle cx="97.85" cy="265.71" r="3"/><circle cx="108.91" cy="284.52" r="3"/><circle cx="98.44" cy="329.67" r="3"/><circle cx="95.53" cy="243.14" r="3"/><circle cx="65.85" cy="295.81" r="3"/><circle cx="133.93" cy="254.43" r="3"/><circle cx="75.16" cy="322.14" r="3"/><circle cx="103.09" cy="280.76" r="3"/><circle cx="117.05" cy="277" r="3"/><circle cx="112.98" cy="250.67" r="3"/><circle cx="76.33" cy="277" r="3"/><circle cx="122.87" cy="235.62" r="3"/><circle cx="92.04" cy="318.38" r="3"/><circle cx="143.82" cy="246.9" r="3"/><circle cx="82.15" cy="258.19" r="3"/><circle cx="107.16" cy="239.38" r="3"/><circle cx="97.85" cy="333.43" r="3"/><circle cx="95.53" cy="310.86" r="3"/><circle cx="116.47" cy="258.19" r="3"/><circle cx="86.22" cy="292.05" r="3"/><circle cx="113.56" cy="243.14" r="3"/>
</g>
<g fill="none" stroke="#1b1e23" stroke-width="1.5">
<circle cx="93.78" cy="175.43" r="3"/><circle cx="114.15" cy="115.24" r="3"/><circle cx="121.71" cy="126.52" r="3"/><circle cx="87.38" cy="145.33" r="3"/><circle cx="129.85" cy="103.95" r="3"/><circle cx="86.22" cy="179.19" r="3"/><circle cx="91.45" cy="164.14" r="3"/><circle cx="121.71" cy="164.14" r="3"/><circle cx="90.87" cy="137.81" r="3"/><circle cx="121.71" cy="100.19" r="3"/><circle cx="94.36" cy="179.19" r="3"/><circle cx="124.04" cy="85.14" r="3"/><circle cx="96.69" cy="198" r="3"/><circle cx="125.78" cy="167.9" r="3"/><circle cx="90.29" cy="205.52" r="3"/><circle cx="117.05" cy="111.48" r="3"/><circle cx="115.89" cy="96.43" r="3"/><circle cx="160.69" cy="179.19" r="3"/><circle cx="93.2" cy="149.1" r="3"/><circle cx="109.49" cy="164.14" r="3"/><circle cx="69.93" cy="198" r="3"/><circle cx="105.42" cy="190.48" r="3"/><circle cx="74.58" cy="224.33" r="3"/><circle cx="117.64" cy="119" r="3"/><circle cx="94.95" cy="175.43" r="3"/><circle cx="125.78" cy="134.05" r="3"/><circle cx="117.05" cy="156.62" r="3"/><circle cx="111.24" cy="134.05" r="3"/><circle cx="93.2" cy="179.19" r="3"/><circle cx="130.44" cy="96.43" r="3"/><circle cx="61.2" cy="224.33" r="3"/><circle cx="138.58" cy="66.33" r="3"/><circle cx="70.51" cy="220.57" r="3"/><circle cx="119.96" cy="141.57" r="3"/><circle cx="112.4" cy="149.1" r="3"/><circle cx="99.6" cy="216.81" r="3"/><circle cx="100.18" cy="160.38" r="3"/><circle cx="125.78" cy="70.1" r="3"/><circle cx="96.11" cy="224.33" r="3"/><circle cx="134.51" cy="100.19" r="3"/><circle cx="108.33" cy="115.24" r="3"/><circle cx="92.04" cy="190.48" r="3"/><circle cx="119.38" cy="130.29" r="3"/><circle cx="87.96" cy="209.29" r="3"/><circle cx="119.38" cy="175.43" r="3"/><circle cx="118.8" cy="152.86" r="3"/><circle cx="114.73" cy="175.43" r="3"/><circle cx="108.33" cy="111.48" r="3"/><circle cx="122.87" cy="145.33" r="3"/><circle cx="112.98" cy="198" r="3"/><circle cx="103.09" cy="231.86" r="3"/><circle cx="122.29" cy="134.05" r="3"/><circle cx="89.13" cy="198" r="3"/><circle cx="118.22" cy="107.71" r="3"/><circle cx="70.51" cy="198" r="3"/><circle cx="126.95" cy="141.57" r="3"/><circle cx="86.22" cy="224.33" r="3"/><circle cx="110.07" cy="100.19" r="3"/><circle cx="115.31" cy="141.57" r="3"/><circle cx="88.55" cy="119" r="3"/><circle cx="125.2" cy="115.24" r="3"/><circle cx="95.53" cy="228.1" r="3"/><circle cx="89.13" cy="209.29" r="3"/><circle cx="147.89" cy="103.95" r="3"/><circle cx="76.33" cy="167.9" r="3"/><circle cx="111.82" cy="164.14" r="3"/><circle cx="118.8" cy="134.05" r="3"/><circle cx="115.31" cy="145.33" r="3"/>
</g>
</g>
<g transform="translate(440,0)">
<rect x="0" y="30" width="180" height="336" fill="none" stroke="#1b1e23"/>
<g fill="#eee" stroke="none">
<circle cx="50.73" cy="145.33" r="3"/><circle cx="53.05" cy="194.24" r="3"/><circle cx="57.71" cy="171.67" r="3"/><circle cx="36.76" cy="122.76" r="3"/><circle cx="51.89" cy="73.86" r="3"/><circle cx="49.56" cy="179.19" r="3"/><circle cx="51.31" cy="111.48" r="3"/><circle cx="21.64" cy="167.9" r="3"/><circle cx="67.6" cy="88.9" r="3"/><circle cx="43.16" cy="205.52" r="3"/><circle cx="43.16" cy="198" r="3"/><circle cx="62.36" cy="186.71" r="3"/><circle cx="47.82" cy="51.29" r="3"/><circle cx="24.55" cy="55.05" r="3"/><circle cx="36.18" cy="179.19" r="3"/><circle cx="48.4" cy="134.05" r="3"/><circle cx="70.51" cy="70.1" r="3"/><circle cx="23.38" cy="156.62" r="3"/><circle cx="90.87" cy="40" r="3"/><circle cx="43.16" cy="160.38" r="3"/><circle cx="42.58" cy="145.33" r="3"/><circle cx="32.11" cy="126.52" r="3"/><circle cx="45.49" cy="167.9" r="3"/><circle cx="48.98" cy="201.76" r="3"/><circle cx="28.62" cy="137.81" r="3"/><circle cx="59.45" cy="149.1" r="3"/><circle cx="58.87" cy="175.43" r="3"/><circle cx="43.75" cy="149.1" r="3"/><circle cx="58.87" cy="137.81" r="3"/><circle cx="53.05" cy="220.57" r="3"/><circle cx="39.67" cy="167.9" r="3"/><circle cx="53.05" cy="179.19" r="3"/><circle cx="61.2" cy="137.81" r="3"/><circle cx="35.02" cy="209.29" r="3"/><circle cx="51.31" cy="55.05" r="3"/><circle cx="48.98" cy="96.43" r="3"/><circle cx="68.76" cy="152.86" r="3"/><circle cx="42" cy="122.76" r="3"/><circle cx="54.8" cy="130.29" r="3"/><circle cx="35.6" cy="171.67" r="3"/><circle cx="60.62" cy="156.62" r="3"/><circle cx="32.69" cy="152.86" r="3"/><circle cx="79.82" cy="107.71" r="3"/><circle cx="38.51" cy="213.05" r="3"/><circle cx="53.64" cy="141.57" r="3"/><circle cx="62.36" cy="134.05" r="3"/><circle cx="41.42" cy="137.81" r="3"/><circle cx="32.69" cy="175.43" r="3"/><circle cx="69.35" cy="51.29" r="3"/><circle cx="53.64" cy="182.95" r="3"/><circle cx="56.55" cy="137.81" r="3"/><circle cx="26.87" cy="175.43" r="3"/><circle cx="67.6" cy="115.24" r="3"/><circle cx="23.96" cy="167.9" r="3"/><circle cx="64.11" cy="149.1" r="3"/><circle cx="50.15" cy="190.48" r="3"/><circle cx="59.45" cy="141.57" r="3"/><circle cx="35.6" cy="224.33" r="3"/><circle cx="42" cy="130.29" r="3"/><circle cx="30.95" cy="213.05" r="3"/><circle cx="63.53" cy="55.05" r="3"/><circle cx="42" cy="209.29" r="3"/><circle cx="62.36" cy="164.14" r="3"/><circle cx="35.02" cy="205.52" r="3"/><circle cx="65.27" cy="171.67" r="3"/><circle cx="29.78" cy="239.38" r="3"/><circle cx="62.36" cy="130.29" r="3"/><circle cx="32.11" cy="224.33" r="3"/><circle cx="66.44" cy="119" r="3"/><circle cx="18.15" cy="134.05" r="3"/><circle cx="54.22" cy="156.62" r="3"/><circle cx="53.64" cy="201.76" r="3"/><circle cx="89.71" cy="137.81" r="3"/><circle cx="29.78" cy="190.48" r="3"/><circle cx="72.25" cy="152.86" r="3"/><circle cx="61.2" cy="216.81" r="3"/><circle cx="39.67" cy="119" r="3"/><circle cx="33.85" cy="243.14" r="3"/><circle cx="68.18" cy="130.29" r="3"/><circle cx="24.55" cy="201.76" r="3"/><circle cx="72.84" cy="186.71" r="3"/><circle cx="36.76" cy="141.57" r="3"/><circle cx="27.45" cy="119" r="3"/><circle cx="40.25" cy="179.19" r="3"/><circle cx="63.53" cy="85.14" r="3"/><circle cx="34.44" cy="115.24" r="3"/><circle cx="37.93" cy="149.1" r="3"/><circle cx="46.07" cy="126.52" r="3"/><circle cx="49.56" cy="141.57" r="3"/><circle cx="30.95" cy="171.67" r="3"/><circle cx="62.36" cy="167.9" r="3"/><circle cx="21.05" cy="205.52" r="3"/><circle cx="53.64" cy="167.9" r="3"/><circle cx="33.85" cy="198" r="3"/><circle cx="60.62" cy="137.81" r="3"/><circle cx="44.91" cy="149.1" r="3"/><circle cx="57.71" cy="152.86" r="3"/><circle cx="15.82" cy="243.14" r="3"/><circle cx="74.58" cy="152.86" r="3"/><circle cx="26.87" cy="175.43" r="3"/><circle cx="61.78" cy="96.43" r="3"/><circle cx="42.58" cy="246.9" r="3"/><circle cx="43.16" cy="96.43" r="3"/><circle cx="43.75" cy="149.1" r="3"/><circle cx="54.22" cy="137.81" r="3"/><circle cx="47.82" cy="201.76" r="3"/><circle cx="45.49" cy="96.43" r="3"/><circle cx="44.91" cy="209.29" r="3"/><circle cx="74.58" cy="134.05" r="3"/><circle cx="44.91" cy="228.1" r="3"/><circle cx="88.55" cy="85.14" r="3"/><circle cx="54.22" cy="182.95" r="3"/><circle cx="68.76" cy="115.24" r="3"/><circle cx="53.64" cy="70.1" r="3"/><circle cx="71.67" cy="160.38" r="3"/><circle cx="47.82" cy="209.29" r="3"/><circle cx="40.25" cy="77.62" r="3"/><circle cx="30.95" cy="209.29" r="3"/><circle cx="62.36" cy="149.1" r="3"/><circle cx="33.85" cy="201.76" r="3"/><circle cx="42.58" cy="103.95" r="3"/><circle cx="57.13" cy="209.29" r="3"/><circle cx="64.11" cy="152.86" r="3"/><circle cx="28.04" cy="250.67" r="3"/><circle cx="59.45" cy="134.05" r="3"/><circle cx="48.98" cy="186.71" r="3"/><circle cx="64.69" cy="160.38" r="3"/><circle cx="50.15" cy="205.52" r="3"/><circle cx="79.82" cy="171.67" r="3"/><circle cx="47.24" cy="175.43" r="3"/><circle cx="74" cy="126.52" r="3"/><circle cx="37.35" cy="152.86" r="3"/><circle cx="41.42" cy="152.86" r="3"/><circle cx="44.91" cy="186.71" r="3"/><circle cx="62.36" cy="190.48" r="3"/><circle cx="30.36" cy="190.48" r="3"/><circle cx="57.13" cy="92.67" r="3"/><circle cx="38.51" cy="228.1" r="3"/><circle cx="54.22" cy="175.43" r="3"/><circle cx="57.13" cy="205.52" r="3"/><circle cx="59.45" cy="201.76" r="3"/><circle cx="10" cy="265.71" r="3"/><circle cx="60.04" cy="209.29" r="3"/><circle cx="40.25" cy="216.81" r="3"/><circle cx="50.15" cy="145.33" r="3"/><circle cx="51.31" cy="149.1" r="3"/><circle cx="36.18" cy="156.62" r="3"/><circle cx="32.69" cy="179.19" r="3"/><circle cx="43.16" cy="167.9" r="3"/><circle cx="32.69" cy="205.52" r="3"/><circle cx="64.69" cy="152.86" r="3"/><circle cx="93.78" cy="175.43" r="3"/><circle cx="114.15" cy="115.24" r="3"/><circle cx="121.71" cy="126.52" r="3"/><circle cx="87.38" cy="145.33" r="3"/><circle cx="129.85" cy="103.95" r="3"/><circle cx="86.22" cy="179.19" r="3"/><circle cx="91.45" cy="164.14" r="3"/><circle cx="121.71" cy="164.14" r="3"/><circle cx="90.87" cy="137.81" r="3"/><circle cx="121.71" cy="100.19" r="3"/><circle cx="94.36" cy="179.19" r="3"/><circle cx="124.04" cy="85.14" r="3"/><circle cx="96.69" cy="198" r="3"/><circle cx="125.78" cy="167.9" r="3"/><circle cx="90.29" cy="205.52" r="3"/><circle cx="117.05" cy="111.48" r="3"/><circle cx="115.89" cy="96.43" r="3"/><circle cx="160.69" cy="179.19" r="3"/><circle cx="93.2" cy="149.1" r="3"/><circle cx="109.49" cy="164.14" r="3"/><circle cx="69.93" cy="198" r="3"/><circle cx="105.42" cy="190.48" r="3"/><circle cx="74.58" cy="224.33" r="3"/><circle cx="117.64" cy="119" r="3"/><circle cx="94.95" cy="175.43" r="3"/><circle cx="125.78" cy="134.05" r="3"/><circle cx="117.05" cy="156.62" r="3"/><circle cx="111.24" cy="134.05" r="3"/><circle cx="93.2" cy="179.19" r="3"/><circle cx="130.44" cy="96.43" r="3"/><circle cx="61.2" cy="224.33" r="3"/><circle cx="138.58" cy="66.33" r="3"/><circle cx="70.51" cy="220.57" r="3"/><circle cx="119.96" cy="141.57" r="3"/><circle cx="112.4" cy="149.1" r="3"/><circle cx="99.6" cy="216.81" r="3"/><circle cx="100.18" cy="160.38" r="3"/><circle cx="125.78" cy="70.1" r="3"/><circle cx="96.11" cy="224.33" r="3"/><circle cx="134.51" cy="100.19" r="3"/><circle cx="108.33" cy="115.24" r="3"/><circle cx="92.04" cy="190.48" r="3"/><circle cx="119.38" cy="130.29" r="3"/><circle cx="87.96" cy="209.29" r="3"/><circle cx="119.38" cy="175.43" r="3"/><circle cx="118.8" cy="152.86" r="3"/><circle cx="114.73" cy="175.43" r="3"/><circle cx="108.33" cy="111.48" r="3"/><circle cx="122.87" cy="145.33" r="3"/><circle cx="112.98" cy="198" r="3"/><circle cx="103.09" cy="231.86" r="3"/><circle cx="122.29" cy="134.05" r="3"/><circle cx="89.13" cy="198" r="3"/><circle cx="118.22" cy="107.71" r="3"/><circle cx="70.51" cy="198" r="3"/><circle cx="126.95" cy="141.57" r="3"/><circle cx="86.22" cy="224.33" r="3"/><circle cx="110.07" cy="100.19" r="3"/><circle cx="115.31" cy="141.57" r="3"/><circle cx="88.55" cy="119" r="3"/><circle cx="125.2" cy="115.24" r="3"/><circle cx="95.53" cy="228.1" r="3"/><circle cx="89.13" cy="209.29" r="3"/><circle cx="147.89" cy="103.95" r="3"/><circle cx="76.33" cy="167.9" r="3"/><circle cx="111.82" cy="164.14" r="3"/><circle cx="118.8" cy="134.05" r="3"/><circle cx="115.31" cy="145.33" r="3"/><circle cx="91.45" cy="352.24" r="3"/><circle cx="114.15" cy="235.62" r="3"/><circle cx="106.58" cy="318.38" r="3"/><circle cx="114.15" cy="277" r="3"/><circle cx="100.18" cy="303.33" r="3"/><circle cx="93.78" cy="340.95" r="3"/><circle cx="87.38" cy="299.57" r="3"/><circle cx="94.95" cy="273.24" r="3"/><circle cx="75.16" cy="344.71" r="3"/><circle cx="95.53" cy="269.48" r="3"/><circle cx="61.2" cy="333.43" r="3"/><circle cx="108.33" cy="243.14" r="3"/><circle cx="87.96" cy="333.43" r="3"/><circle cx="104.84" cy="299.57" r="3"/><circle cx="89.71" cy="299.57" r="3"/><circle cx="110.07" cy="258.19" r="3"/><circle cx="67.6" cy="340.95" r="3"/><circle cx="109.49" cy="277" r="3"/><circle cx="92.04" cy="303.33" r="3"/><circle cx="106.58" cy="280.76" r="3"/><circle cx="115.31" cy="310.86" r="3"/><circle cx="85.64" cy="303.33" r="3"/><circle cx="93.78" cy="303.33" r="3"/><circle cx="92.62" cy="254.43" r="3"/><circle cx="72.84" cy="356" r="3"/><circle cx="91.45" cy="280.76" r="3"/><circle cx="82.15" cy="310.86" r="3"/><circle cx="101.35" cy="284.52" r="3"/><circle cx="103.67" cy="310.86" r="3"/><circle cx="114.15" cy="273.24" r="3"/><circle cx="98.44" cy="273.24" r="3"/><circle cx="72.25" cy="314.62" r="3"/><circle cx="85.64" cy="303.33" r="3"/><circle cx="170" cy="209.29" r="3"/><circle cx="108.91" cy="292.05" r="3"/><circle cx="104.84" cy="235.62" r="3"/><circle cx="71.09" cy="333.43" r="3"/><circle cx="81.56" cy="198" r="3"/><circle cx="79.24" cy="337.19" r="3"/><circle cx="106.58" cy="258.19" r="3"/><circle cx="71.67" cy="333.43" r="3"/><circle cx="111.82" cy="246.9" r="3"/><circle cx="86.8" cy="333.43" r="3"/><circle cx="111.82" cy="284.52" r="3"/><circle cx="117.05" cy="250.67" r="3"/><circle cx="76.91" cy="325.9" r="3"/><circle cx="87.96" cy="325.9" r="3"/><circle cx="117.05" cy="250.67" r="3"/><circle cx="84.47" cy="348.48" r="3"/><circle cx="86.22" cy="254.43" r="3"/><circle cx="94.36" cy="314.62" r="3"/><circle cx="105.42" cy="318.38" r="3"/><circle cx="85.64" cy="307.1" r="3"/><circle cx="114.73" cy="284.52" r="3"/><circle cx="93.78" cy="307.1" r="3"/><circle cx="85.05" cy="269.48" r="3"/><circle cx="78.07" cy="325.9" r="3"/><circle cx="87.96" cy="284.52" r="3"/><circle cx="74.58" cy="303.33" r="3"/><circle cx="116.47" cy="273.24" r="3"/><circle cx="86.8" cy="329.67" r="3"/><circle cx="92.04" cy="288.29" r="3"/><circle cx="89.13" cy="325.9" r="3"/><circle cx="139.16" cy="258.19" r="3"/><circle cx="89.71" cy="314.62" r="3"/><circle cx="112.98" cy="216.81" r="3"/><circle cx="92.04" cy="307.1" r="3"/><circle cx="111.24" cy="239.38" r="3"/><circle cx="76.33" cy="314.62" r="3"/><circle cx="118.22" cy="284.52" r="3"/><circle cx="100.76" cy="284.52" r="3"/><circle cx="93.2" cy="261.95" r="3"/><circle cx="103.67" cy="261.95" r="3"/><circle cx="93.78" cy="292.05" r="3"/><circle cx="93.2" cy="284.52" r="3"/><circle cx="106" cy="246.9" r="3"/><circle cx="99.6" cy="314.62" r="3"/><circle cx="120.55" cy="235.62" r="3"/><circle cx="86.22" cy="329.67" r="3"/><circle cx="86.22" cy="231.86" r="3"/><circle cx="108.91" cy="303.33" r="3"/><circle cx="128.69" cy="261.95" r="3"/><circle cx="99.02" cy="299.57" r="3"/><circle cx="114.15" cy="250.67" r="3"/><circle cx="84.47" cy="329.67" r="3"/><circle cx="118.8" cy="198" r="3"/><circle cx="75.75" cy="307.1" r="3"/><circle cx="121.71" cy="314.62" r="3"/><circle cx="99.6" cy="322.14" r="3"/><circle cx="126.36" cy="209.29" r="3"/><circle cx="99.6" cy="284.52" r="3"/><circle cx="126.95" cy="205.52" r="3"/><circle cx="87.96" cy="303.33" r="3"/><circle cx="111.24" cy="243.14" r="3"/><circle cx="82.15" cy="295.81" r="3"/><circle cx="118.8" cy="258.19" r="3"/><circle cx="110.65" cy="254.43" r="3"/><circle cx="96.11" cy="299.57" r="3"/><circle cx="104.84" cy="307.1" r="3"/><circle cx="120.55" cy="228.1" r="3"/><circle cx="105.42" cy="284.52" r="3"/><circle cx="148.47" cy="209.29" r="3"/><circle cx="97.85" cy="265.71" r="3"/><circle cx="108.91" cy="284.52" r="3"/><circle cx="98.44" cy="329.67" r="3"/><circle cx="95.53" cy="243.14" r="3"/><circle cx="65.85" cy="295.81" r="3"/><circle cx="133.93" cy="254.43" r="3"/><circle cx="75.16" cy="322.14" r="3"/><circle cx="103.09" cy="280.76" r="3"/><circle cx="117.05" cy="277" r="3"/><circle cx="112.98" cy="250.67" r="3"/><circle cx="76.33" cy="277" r="3"/><circle cx="122.87" cy="235.62" r="3"/><circle cx="92.04" cy="318.38" r="3"/><circle cx="143.82" cy="246.9" r="3"/><circle cx="82.15" cy="258.19" r="3"/><circle cx="107.16" cy="239.38" r="3"/><circle cx="97.85" cy="333.43" r="3"/><circle cx="95.53" cy="310.86" r="3"/><circle cx="116.47" cy="258.19" r="3"/><circle cx="86.22" cy="292.05" r="3"/><circle cx="113.56" cy="243.14" r="3"/>
</g>
<g fill="none" stroke="#1b1e23" stroke-width="1.5">
<circle cx="91.45" cy="352.24" r="3"/><circle cx="114.15" cy="235.62" r="3"/><circle cx="106.58" cy="318.38" r="3"/><circle cx="114.15" cy="277" r="3"/><circle cx="100.18" cy="303.33" r="3"/><circle cx="93.78" cy="340.95" r="3"/><circle cx="87.38" cy="299.57" r="3"/><circle cx="94.95" cy="273.24" r="3"/><circle cx="75.16" cy="344.71" r="3"/><circle cx="95.53" cy="269.48" r="3"/><circle cx="61.2" cy="333.43" r="3"/><circle cx="108.33" cy="243.14" r="3"/><circle cx="87.96" cy="333.43" r="3"/><circle cx="104.84" cy="299.57" r="3"/><circle cx="89.71" cy="299.57" r="3"/><circle cx="110.07" cy="258.19" r="3"/><circle cx="67.6" cy="340.95" r="3"/><circle cx="109.49" cy="277" r="3"/><circle cx="92.04" cy="303.33" r="3"/><circle cx="106.58" cy="280.76" r="3"/><circle cx="115.31" cy="310.86" r="3"/><circle cx="85.64" cy="303.33" r="3"/><circle cx="93.78" cy="303.33" r="3"/><circle cx="92.62" cy="254.43" r="3"/><circle cx="72.84" cy="356" r="3"/><circle cx="91.45" cy="280.76" r="3"/><circle cx="82.15" cy="310.86" r="3"/><circle cx="101.35" cy="284.52" r="3"/><circle cx="103.67" cy="310.86" r="3"/><circle cx="114.15" cy="273.24" r="3"/><circle cx="98.44" cy="273.24" r="3"/><circle cx="72.25" cy="314.62" r="3"/><circle cx="85.64" cy="303.33" r="3"/><circle cx="170" cy="209.29" r="3"/><circle cx="108.91" cy="292.05" r="3"/><circle cx="104.84" cy="235.62" r="3"/><circle cx="71.09" cy="333.43" r="3"/><circle cx="81.56" cy="198" r="3"/><circle cx="79.24" cy="337.19" r="3"/><circle cx="106.58" cy="258.19" r="3"/><circle cx="71.67" cy="333.43" r="3"/><circle cx="111.82" cy="246.9" r="3"/><circle cx="86.8" cy="333.43" r="3"/><circle cx="111.82" cy="284.52" r="3"/><circle cx="117.05" cy="250.67" r="3"/><circle cx="76.91" cy="325.9" r="3"/><circle cx="87.96" cy="325.9" r="3"/><circle cx="117.05" cy="250.67" r="3"/><circle cx="84.47" cy="348.48" r="3"/><circle cx="86.22" cy="254.43" r="3"/><circle cx="94.36" cy="314.62" r="3"/><circle cx="105.42" cy="318.38" r="3"/><circle cx="85.64" cy="307.1" r="3"/><circle cx="114.73" cy="284.52" r="3"/><circle cx="93.78" cy="307.1" r="3"/><circle cx="85.05" cy="269.48" r="3"/><circle cx="78.07" cy="325.9" r="3"/><circle cx="87.96" cy="284.52" r="3"/><circle cx="74.58" cy="303.33" r="3"/><circle cx="116.47" cy="273.24" r="3"/><circle cx="86.8" cy="329.67" r="3"/><circle cx="92.04" cy="288.29" r="3"/><circle cx="89.13" cy="325.9" r="3"/><circle cx="139.16" cy="258.19" r="3"/><circle cx="89.71" cy="314.62" r="3"/><circle cx="112.98" cy="216.81" r="3"/><circle cx="92.04" cy="307.1" r="3"/><circle cx="111.24" cy="239.38" r="3"/><circle cx="76.33" cy="314.62" r="3"/><circle cx="118.22" cy="284.52" r="3"/><circle cx="100.76" cy="284.52" r="3"/><circle cx="93.2" cy="261.95" r="3"/><circle cx="103.67" cy="261.95" r="3"/><circle cx="93.78" cy="292.05" r="3"/><circle cx="93.2" cy="284.52" r="3"/><circle cx="106" cy="246.9" r="3"/><circle cx="99.6" cy="314.62" r="3"/><circle cx="120.55" cy="235.62" r="3"/><circle cx="86.22" cy="329.67" r="3"/><circle cx="86.22" cy="231.86" r="3"/><circle cx="108.91" cy="303.33" r="3"/><circle cx="128.69" cy="261.95" r="3"/><circle cx="99.02" cy="299.57" r="3"/><circle cx="114.15" cy="250.67" r="3"/><circle cx="84.47" cy="329.67" r="3"/><circle cx="118.8" cy="198" r="3"/><circle cx="75.75" cy="307.1" r="3"/><circle cx="121.71" cy="314.62" r="3"/><circle cx="99.6" cy="322.14" r="3"/><circle cx="126.36" cy="209.29" r="3"/><circle cx="99.6" cy="284.52" r="3"/><circle cx="126.95" cy="205.52" r="3"/><circle cx="87.96" cy="303.33" r="3"/><circle cx="111.24" cy="243.14" r="3"/><circle cx="82.15" cy="295.81" r="3"/><circle cx="118.8" cy="258.19" r="3"/><circle cx="110.65" cy="254.43" r="3"/><circle cx="96.11" cy="299.57" r="3"/><circle cx="104.84" cy="307.1" r="3"/><circle cx="120.55" cy="228.1" r="3"/><circle cx="105.42" cy="284.52" r="3"/><circle cx="148.47" cy="209.29" r="3"/><circle cx="97.85" cy="265.71" r="3"/><circle cx="108.91" cy="284.52" r="3"/><circle cx="98.44" cy="329.67" r="3"/><circle cx="95.53" cy="243.14" r="3"/><circle cx="65.85" cy="295.81" r="3"/><circle cx="133.93" cy="254.43" r="3"/><circle cx="75.16" cy="322.14" r="3"/><circle cx="103.09" cy="280.76" r="3"/><circle cx="117.05" cy="277" r="3"/><circle cx="112.98" cy="250.67" r="3"/><circle cx="76.33" cy="277" r="3"/><circle cx="122.87" cy="235.62" r="3"/><circle cx="92.04" cy="318.38" r="3"/><circle cx="143.82" cy="246.9" r="3"/><circle cx="82.15" cy="258.19" r="3"/><circle cx="107.16" cy="239.38" r="3"/><circle cx="97.85" cy="333.43" r="3"/><circle cx="95.53" cy="310.86" r="3"/><circle cx="116.47" cy="258.19" r="3"/><circle cx="86.22" cy="292.05" r="3"/><circle cx="113.56" cy="243.14" r="3"/>
</g>
</g>
</svg>
</body>
</html>
